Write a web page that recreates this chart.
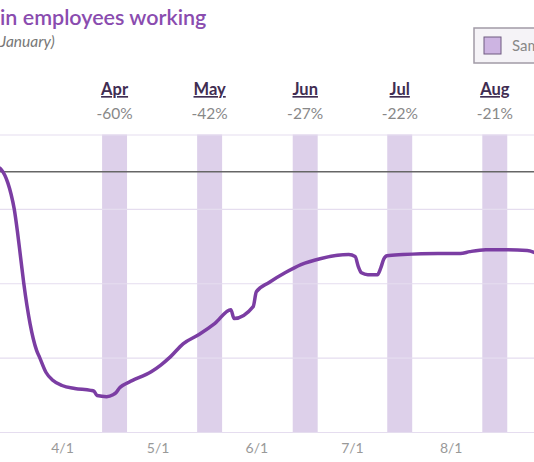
<!DOCTYPE html>
<html>
<head>
<meta charset="utf-8">
<script src="https://cdn.jsdelivr.net/npm/d3@7"></script>
<style>
  body { margin: 0; background: #fff; }
  svg { display: block; font-family: Lato, sans-serif; }
</style>
</head>
<body>
<div id="wrapper"></div>
<script>
// Data

const lineDates = [
  '2020-03-11', '2020-03-13', '2020-03-15', '2020-03-16', '2020-03-17',
  '2020-03-18', '2020-03-19', '2020-03-20', '2020-03-21', '2020-03-22',
  '2020-03-23', '2020-03-24', '2020-03-25', '2020-03-27', '2020-03-29',
  '2020-04-01', '2020-04-05', '2020-04-10', '2020-04-11', '2020-04-12',
  '2020-04-15', '2020-04-17', '2020-04-18', '2020-04-19', '2020-04-20',
  '2020-04-23', '2020-04-29', '2020-05-02', '2020-05-05', '2020-05-09',
  '2020-05-14', '2020-05-19', '2020-05-24', '2020-05-25', '2020-05-31',
  '2020-06-01', '2020-06-05', '2020-06-10', '2020-06-15', '2020-06-21',
  '2020-06-30', '2020-07-02', '2020-07-03', '2020-07-04', '2020-07-06',
  '2020-07-09', '2020-07-10', '2020-07-11', '2020-07-12', '2020-07-17',
  '2020-07-28', '2020-08-04', '2020-08-07', '2020-08-12', '2020-08-19',
  '2020-08-25', '2020-08-28',
];
const lineValues = [
  1.5, 0.5, -3, -6, -10,
  -16, -23, -30, -36, -41,
  -45, -48, -50, -54, -56,
  -57.5, -58.3, -58.8, -59, -60.2,
  -60.5, -60, -59.4, -58.2, -57.5,
  -56.2, -53.8, -52, -49.8, -46.3,
  -43.8, -40.8, -37.1, -39.5, -36.3,
  -32.3, -29.8, -27.2, -25, -23.4,
  -22.3, -22.8, -25.5, -27.2, -27.7,
  -27.7, -26, -23.5, -22.6, -22.3,
  -22, -22, -21.5, -21, -21,
  -21.2, -22,
];

const bandMonths = ['Apr', 'May', 'Jun', 'Jul', 'Aug'];
const bandChanges = [-60, -42, -27, -22, -21];
const bandStarts = ['2020-04-13T14:00', '2020-05-13T10:00', '2020-06-12T10:00', '2020-07-12T02:00', '2020-08-10T22:00'];
const bandEnds = ['2020-04-21T10:00', '2020-05-21T06:00', '2020-06-20T06:00', '2020-07-19T22:00', '2020-08-18T18:00'];

const gridValues = [10, -10, -30, -50, -70];
const xTickDates = ['2020-04-01', '2020-05-01', '2020-06-01', '2020-07-01', '2020-08-01'];

const parseDay = d3.timeParse('%Y-%m-%d');
const parseHour = d3.timeParse('%Y-%m-%dT%H:%M');

const dataset = lineDates.map((d, i) => ({ date: parseDay(d), value: lineValues[i] }));
const bands = bandMonths.map((m, i) => ({
  month: m,
  change: bandChanges[i],
  start: parseHour(bandStarts[i]),
  end: parseHour(bandEnds[i]),
}));

const xAccessor = (d) => d.date;
const yAccessor = (d) => d.value;

// Dimensions
const dimensions = {
  width: 534,
  height: 462,
  plotTop: 134.5,
  plotBottom: 432,
};

// Scales
const xScale = d3
  .scaleTime()
  .domain([parseDay('2020-04-01'), parseDay('2020-08-01')])
  .range([62, 450.7]);

const yScale = d3
  .scaleLinear()
  .domain([10, -70])
  .range([dimensions.plotTop, dimensions.plotBottom]);

// Canvas
const svg = d3
  .select('#wrapper')
  .append('svg')
  .attr('width', dimensions.width)
  .attr('height', dimensions.height);

// Title
svg
  .append('text')
  .attr('x', 0)
  .attr('y', 25)
  .attr('fill', '#8a4caf')
  .style('font-size', '21.5px')
  .style('font-weight', 600)
  .text('in employees working');

svg
  .append('text')
  .attr('x', 0)
  .attr('y', 47)
  .attr('fill', '#777')
  .style('font-size', '15.5px')
  .style('font-style', 'italic')
  .text('January)');

// Legend
const legend = svg.append('g').attr('transform', 'translate(474, 28)');
legend
  .append('rect')
  .attr('width', 90)
  .attr('height', 35)
  .attr('fill', '#f5f3f7')
  .attr('stroke', '#a19ba6')
  .attr('stroke-width', 1.5);
legend
  .append('rect')
  .attr('x', 10)
  .attr('y', 9)
  .attr('width', 17)
  .attr('height', 17)
  .attr('fill', '#cdb4e2')
  .attr('stroke', '#6f5a80')
  .attr('stroke-width', 1);
legend
  .append('text')
  .attr('x', 38)
  .attr('y', 23)
  .attr('fill', '#888')
  .style('font-size', '15px')
  .text('Sample week');

// Bands
svg
  .append('g')
  .selectAll('rect')
  .data(bands)
  .join('rect')
  .attr('x', (d) => xScale(d.start))
  .attr('y', dimensions.plotTop)
  .attr('width', (d) => xScale(d.end) - xScale(d.start))
  .attr('height', dimensions.plotBottom - dimensions.plotTop)
  .attr('fill', '#ddd0ea');

// Band labels
const bandLabels = svg
  .append('g')
  .selectAll('g')
  .data(bands)
  .join('g')
  .attr('transform', (d) => `translate(${(xScale(d.start) + xScale(d.end)) / 2}, 0)`);

bandLabels
  .append('text')
  .attr('y', 95)
  .attr('text-anchor', 'middle')
  .attr('fill', '#3f2d52')
  .style('font-size', '16.5px')
  .style('font-weight', 700)
  .style('text-decoration', 'underline')
  .text((d) => d.month);

bandLabels
  .append('text')
  .attr('y', 119)
  .attr('text-anchor', 'middle')
  .attr('fill', '#888')
  .style('font-size', '15.5px')
  .text((d) => `${d.change}%`);

// Gridlines
const yGrid = d3
  .axisLeft(yScale)
  .tickValues(gridValues)
  .tickSize(-dimensions.width)
  .tickFormat('');
svg
  .append('g')
  .attr('transform', 'translate(0, 0)')
  .call(yGrid)
  .call((g) => g.select('.domain').remove())
  .call((g) => g.selectAll('line').attr('stroke', '#e5ddef').attr('stroke-width', 1.2));

// Baseline (January level)
svg
  .append('line')
  .attr('x1', 0)
  .attr('x2', dimensions.width)
  .attr('y1', yScale(0))
  .attr('y2', yScale(0))
  .attr('stroke', '#666')
  .attr('stroke-width', 1.5);

// X axis
const xAxis = d3
  .axisBottom(xScale)
  .tickValues(xTickDates.map(parseDay))
  .tickSize(0)
  .tickPadding(0)
  .tickFormat(d3.timeFormat('%-m/%-d'));
svg
  .append('g')
  .attr('transform', `translate(0, ${dimensions.plotBottom + 11})`)
  .call(xAxis)
  .call((g) => g.select('.domain').remove())
  .call((g) =>
    g
      .selectAll('text')
      .attr('fill', '#999')
      .style('font-size', '14px')
      .style('font-family', 'Lato, sans-serif')
  );

// Line
const lineGenerator = d3
  .line()
  .x((d) => xScale(xAccessor(d)))
  .y((d) => yScale(yAccessor(d)))
  .curve(d3.curveMonotoneX);

svg
  .append('path')
  .attr('d', lineGenerator(dataset))
  .attr('fill', 'none')
  .attr('stroke', '#7b3da3')
  .attr('stroke-width', 3.5)
  .attr('stroke-linejoin', 'round');
</script>
</body>
</html>
